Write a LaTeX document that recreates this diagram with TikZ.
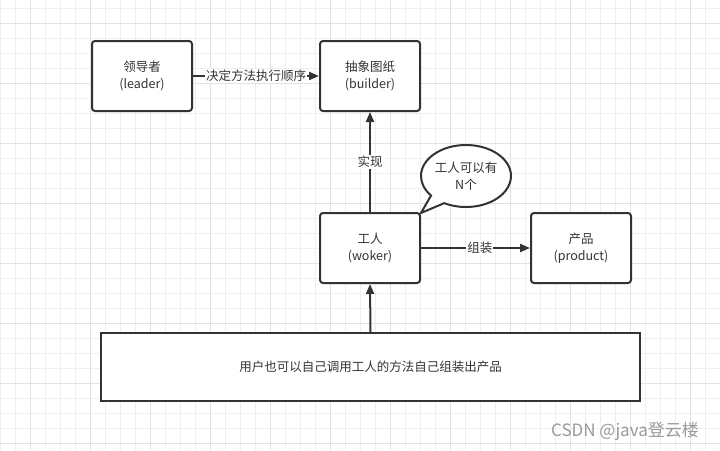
\documentclass[tikz,border=0pt]{standalone}
\usepackage{fontspec}
\setmainfont{Noto Sans CJK SC}
\usetikzlibrary{arrows.meta,shapes.callouts}
\definecolor{txt}{HTML}{333333}
\definecolor{gridminor}{HTML}{EFEFEF}
\definecolor{gridmajor}{HTML}{E2E2E2}
\definecolor{wm}{HTML}{9A9A9A}
\tikzset{
  box/.style={draw=txt, line width=2pt, rounded corners=3pt, fill=white,
    minimum width=100pt, minimum height=70pt, align=center, text=txt,
    font=\fontsize{12.5}{17}\selectfont, inner sep=0pt},
  conn/.style={draw=txt, line width=2pt, -{Triangle[length=10pt,width=8pt]}},
  lbl/.style={fill=white, text=txt, font=\fontsize{12.5}{15}\selectfont, inner sep=1pt},
}
\begin{document}
\begin{tikzpicture}[x=1pt,y=-1pt]
\useasboundingbox (0,0) rectangle (720,450);
\fill[white] (0,0) rectangle (720,450);
% grid
\foreach \i in {0,...,48} {
  \draw[gridminor, line width=1pt] (15*\i,0) -- (15*\i,450);
}
\foreach \j in {0,...,29} {
  \draw[gridminor, line width=1pt] (0,8+15*\j) -- (720,8+15*\j);
}
\foreach \i in {0,...,12} {
  \draw[gridmajor, line width=1pt] (30+60*\i,0) -- (30+60*\i,450);
}
\foreach \j in {0,...,7} {
  \draw[gridmajor, line width=1pt] (0,23+60*\j) -- (720,23+60*\j);
}
% nodes
\node[box] (leader) at (142,76) {领导者\\(leader)};
\node[box] (builder) at (370,76) {抽象图纸\\(builder)};
\node[box] (worker) at (370,248) {工人\\(woker)};
\node[box] (product) at (581,248) {产品\\(product)};
\node[box, rounded corners=0pt, minimum width=539pt, minimum height=68pt] (user) at (370.5,367) {用户也可以自己调用工人的方法自己组装出产品};
\node[ellipse callout, draw=txt, line width=2pt, fill=white, text=txt,
  minimum width=90pt, minimum height=62pt, inner sep=0pt, align=center,
  font=\fontsize{12.5}{17}\selectfont,
  callout absolute pointer={(421,213)}, callout pointer arc=22] (bubble) at (466,176) {工人可以有\\N个};
% connectors
\draw[conn] (leader.east) -- node[lbl] (l1) {决定方法执行顺序} (builder.west);
\draw[conn] (worker.north) -- node[lbl, pos=0.5] (l2) {实现} (builder.south);
\draw[conn] (worker.east) -- node[lbl, pos=0.54] (l3) {组装} (product.west);
\draw[conn] (user.north) -- (worker.south);
% watermark
\node[text=wm, font=\fontsize{17}{19}\selectfont, inner sep=0pt] (wmk) at (625,431) {CSDN @java登云楼};
\end{tikzpicture}
\end{document}
